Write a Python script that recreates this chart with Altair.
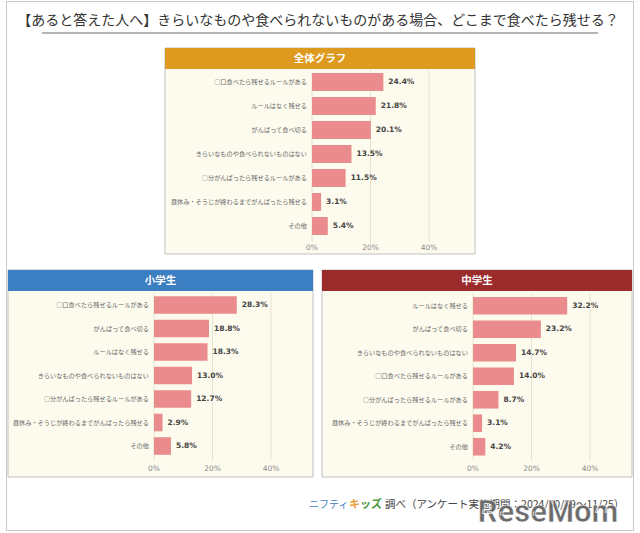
import altair as alt
import pandas as pd

FONT = "Noto Sans CJK JP"
NUMFONT = "DejaVu Sans"
CREAM = "#FDFBEE"
BAR = "#EA8C8E"

title_text = "【あると答えた人へ】きらいなものや食べられないものがある場合、どこまで食べたら残せる？"

all_title = "全体グラフ"
all_labels = ["○口食べたら残せるルールがある", "ルールはなく残せる", "がんばって食べ切る",
              "きらいなものや食べられないものはない", "○分がんばったら残せるルールがある",
              "昼休み・そうじが終わるまでがんばったら残せる", "その他"]
all_values = [24.4, 21.8, 20.1, 13.5, 11.5, 3.1, 5.4]

elem_title = "小学生"
elem_labels = ["○口食べたら残せるルールがある", "がんばって食べ切る", "ルールはなく残せる",
               "きらいなものや食べられないものはない", "○分がんばったら残せるルールがある",
               "昼休み・そうじが終わるまでがんばったら残せる", "その他"]
elem_values = [28.3, 18.8, 18.3, 13.0, 12.7, 2.9, 5.8]

junior_title = "中学生"
junior_labels = ["ルールはなく残せる", "がんばって食べ切る", "きらいなものや食べられないものはない",
                 "○口食べたら残せるルールがある", "○分がんばったら残せるルールがある",
                 "昼休み・そうじが終わるまでがんばったら残せる", "その他"]
junior_values = [32.2, 23.2, 14.7, 14.0, 8.7, 3.1, 4.2]

ticks = [0, 20, 40]
tick_labels = ["0%", "20%", "40%"]

footer_brand1 = "ニフティ"
footer_brand2 = "キ"
footer_brand3 = "ッズ"
footer_text = "調べ（アンケート実施期間：2024/10/29～11/25）"
watermark = "ReseMom"

one = pd.DataFrame({"a": [0]})
PX = 2.925  # pixels per percentage point


def panel(title, color, labels, values, box, x0, y_range, grid_y, tick_y):
    left, top, right, bottom = box
    df = pd.DataFrame({"label": labels, "value": values,
                       "text": [f"{v:.1f}%" for v in values]})
    tdf = pd.DataFrame({"tick": ticks, "tl": tick_labels})
    xs = alt.Scale(domain=[0, 50], range=[x0, x0 + PX * 50], nice=False)
    ys = alt.Scale(domain=labels, range=y_range, paddingInner=0.25, paddingOuter=0.125)
    X = alt.X("value:Q", scale=xs, axis=None)
    Y = alt.Y("label:N", scale=ys, sort=labels, axis=None)
    bg = alt.Chart(one).mark_rect(fill=CREAM, stroke="#bfbfbf", strokeWidth=1).encode(
        x=alt.value(left), x2=alt.value(right), y=alt.value(top), y2=alt.value(bottom))
    hdr = alt.Chart(one).mark_rect(fill=color).encode(
        x=alt.value(left), x2=alt.value(right), y=alt.value(top), y2=alt.value(top + 21))
    htxt = alt.Chart(one).mark_text(text=title, font=FONT, fontSize=10.5, fontWeight="bold",
                                    color="white", baseline="middle").encode(
        x=alt.value((left + right) / 2), y=alt.value(top + 10.5))
    grid = alt.Chart(tdf).mark_rule(color="#e6e2d0", strokeWidth=1).encode(
        x=alt.X("tick:Q", scale=xs, axis=None), y=alt.value(grid_y[0]), y2=alt.value(grid_y[1]))
    tick_txt = alt.Chart(tdf).mark_text(font=NUMFONT, fontSize=7.5, color="#8a8a8a",
                                        baseline="middle").encode(
        x=alt.X("tick:Q", scale=xs, axis=None), y=alt.value(tick_y), text="tl:N")
    bars = alt.Chart(df).mark_bar(color=BAR).encode(x=X, y=Y)
    cats = alt.Chart(df).mark_text(align="right", baseline="middle", font=FONT, fontSize=6.2,
                                   color="#666666").encode(
        x=alt.value(x0 - 5), y=Y, text="label:N")
    vals = alt.Chart(df).mark_text(align="left", baseline="middle", dx=5, font=NUMFONT,
                                   fontSize=7.5, fontWeight="bold", color="#444444").encode(
        x=X, y=Y, text="text:N")
    return alt.layer(bg, hdr, htxt, grid, bars, cats, vals, tick_txt)


p_all = panel(all_title, "#DE9A1E", all_labels, all_values,
              (165, 48, 475, 254), 312, [70, 238], (70, 242), 248)
p_elem = panel(elem_title, "#3B7EC1", elem_labels, elem_values,
               (8, 270, 313, 477), 154, [293.25, 457.75], (293, 460), 469)
p_junior = panel(junior_title, "#9C2B2B", junior_labels, junior_values,
                 (322, 270, 632, 477), 473, [294, 458.5], (293, 460), 469)

frame = alt.Chart(one).mark_rect(fill="white", stroke="#c8c8c8", strokeWidth=1).encode(
    x=alt.value(6.5), x2=alt.value(633.5), y=alt.value(1.5), y2=alt.value(530.5))
title = alt.Chart(one).mark_text(text=title_text, font=FONT, fontSize=14, color="#333333",
                                 baseline="middle").encode(x=alt.value(318), y=alt.value(21))
underline = alt.Chart(one).mark_rule(color="#b5b5b5", strokeWidth=2).encode(
    x=alt.value(42), x2=alt.value(598), y=alt.value(33))

f1 = alt.Chart(one).mark_text(text=footer_brand1, font=FONT, fontSize=10, color="#3C82C4",
                              align="left", baseline="middle").encode(x=alt.value(309), y=alt.value(505))
f2 = alt.Chart(one).mark_text(text=footer_brand2, font=FONT, fontSize=11, fontWeight="bold",
                              color="#E8A03A", align="left", baseline="middle").encode(
    x=alt.value(349), y=alt.value(505))
f3 = alt.Chart(one).mark_text(text=footer_brand3, font=FONT, fontSize=11, fontWeight="bold",
                              color="#4E9A3C", align="left", baseline="middle").encode(
    x=alt.value(360), y=alt.value(505))
f4 = alt.Chart(one).mark_text(text=footer_text, font=FONT, fontSize=10.5, color="#444444",
                              align="left", baseline="middle").encode(x=alt.value(385), y=alt.value(505))
wm = alt.Chart(one).mark_text(text=watermark, font="Roboto", fontSize=31, fontWeight="bold",
                              color="#6b6b6b", align="center", baseline="middle",
                              stroke="white", strokeWidth=0.6).encode(
    x=alt.value(548), y=alt.value(513))

chart = alt.layer(frame, title, underline, p_all, p_elem, p_junior, f1, f2, f3, f4, wm).resolve_scale(
    x="independent", y="independent"
).properties(width=640, height=533, autosize="none", padding=0, background="white"
).configure_view(stroke=None)

chart.save("out.html", embed_options={"renderer": "svg", "actions": False})
